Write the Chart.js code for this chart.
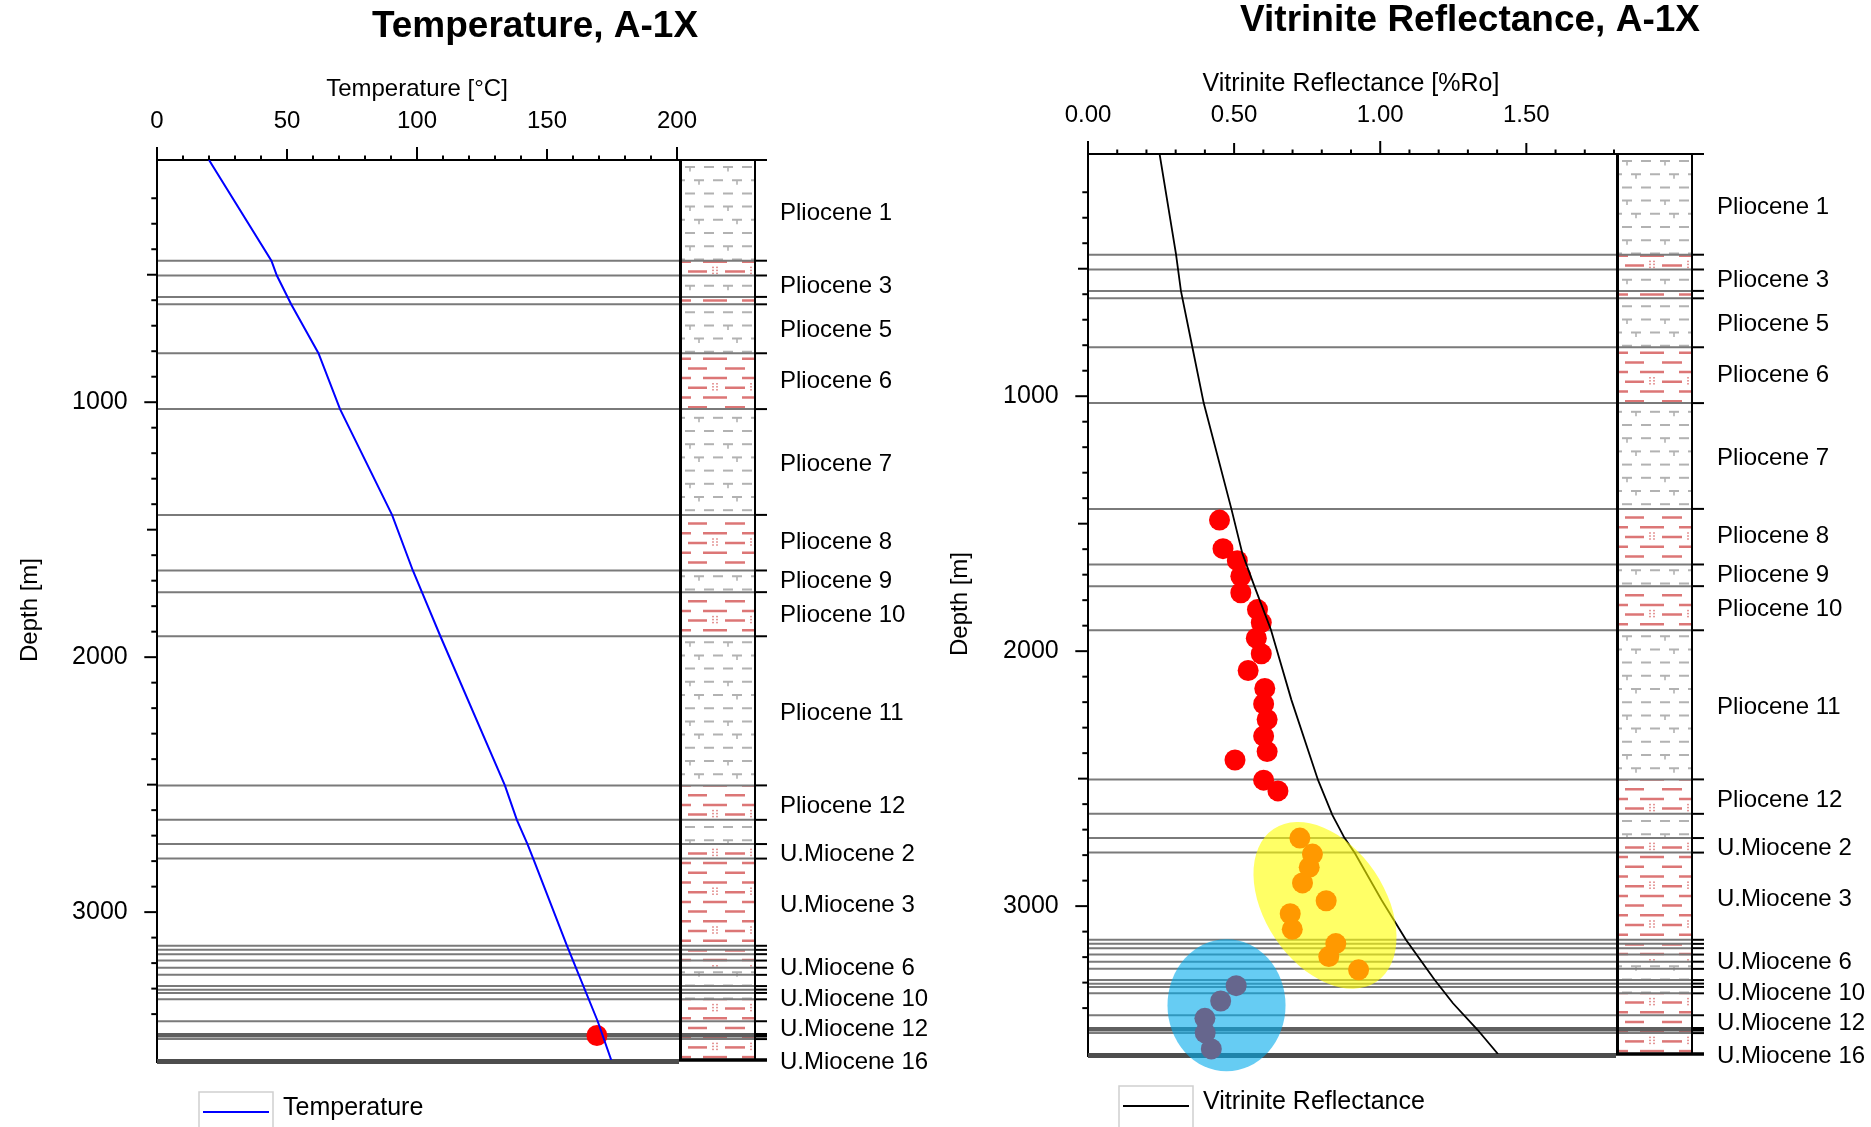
<!DOCTYPE html>
<html>
<head>
<meta charset="utf-8">
<title>A-1X well panels</title>
<script src="https://cdn.jsdelivr.net/npm/chart.js@4.4.1/dist/chart.umd.min.js"></script>
<style>
  html, body { margin: 0; padding: 0; background: #fff; overflow: hidden; width: 1871px; height: 1127px; }
  canvas { position: absolute; }
  #tempChart { left: 0; top: 0; }
  #vrChart { left: 930px; top: -6px; }
</style>
</head>
<body>
<canvas id="tempChart" width="1070" height="1127"></canvas>
<canvas id="vrChart" width="1080" height="1133"></canvas>
<script>
// ---- Well A-1X: depth range, horizons and lithology --------------------
const depthTop = 50;
const depthBottom = 3580;
const depthTickLabels = [1000, 2000, 3000];

const horizonDepths = [445, 503, 587, 616, 808, 1027, 1442, 1660, 1745, 1918, 2503, 2638,
  2733, 2790, 3132, 3148, 3165, 3190, 3218, 3246, 3290, 3304, 3317, 3342, 3428, 3483, 3498];
const thickHorizons = [3483];

// one entry per interval between consecutive horizons (top to bottom)
const lithology = ['shale', 'sand', 'shale', 'sand', 'shale', 'sand', 'shale', 'sand', 'shale', 'sand',
  'shale', 'sand', 'shale', 'sand', 'sand', 'sand', 'sand', 'sand', 'sand', 'shale', 'shale', 'shale',
  'shale', 'shale', 'sand', 'sand', 'sand', 'sand'];

const formationNames = ['Pliocene 1', 'Pliocene 3', 'Pliocene 5', 'Pliocene 6', 'Pliocene 7', 'Pliocene 8',
  'Pliocene 9', 'Pliocene 10', 'Pliocene 11', 'Pliocene 12', 'U.Miocene 2', 'U.Miocene 3', 'U.Miocene 6',
  'U.Miocene 10', 'U.Miocene 12', 'U.Miocene 16'];
const formationLabelDepths = [260, 545, 718, 920, 1243, 1551, 1701, 1837, 2220, 2585, 2773, 2974, 3222,
  3344, 3460, 3591];

// ---- Temperature -------------------------------------------------------
const tempTickLabels = [0, 50, 100, 150, 200];
const tempDepth = [50, 445, 503, 616, 808, 1027, 1442, 1660, 1745, 1918, 2503, 2638, 2733, 2790, 3132, 3428, 3580];
const tempValue = [20.0, 44.0, 46.1, 51.6, 62.1, 70.4, 90.4, 98.4, 101.9, 109.0, 133.8, 138.4, 142.5, 144.7, 157.7, 169.5, 174.7];
const measuredTempDepth = [3484];
const measuredTempValue = [169.2];

// ---- Vitrinite reflectance --------------------------------------------
const vrTickLabels = ['0.00', '0.50', '1.00', '1.50'];
const vrDepth = [50, 442, 587, 807, 1027, 1439, 1616, 1747, 1916, 2191, 2505, 2642, 2733, 2792, 2975, 3132, 3289, 3381, 3485, 3580];
const vrValue = [0.245, 0.301, 0.318, 0.357, 0.396, 0.490, 0.528, 0.570, 0.626, 0.696, 0.787, 0.836, 0.878, 0.913, 1.004, 1.088, 1.186, 1.249, 1.333, 1.403];
const roDepth = [1486, 1598, 1645, 1706, 1771, 1837, 1888, 1949, 2010, 2076, 2146, 2207, 2268, 2333, 2394, 2427, 2506, 2548,
  2733, 2796, 2848, 2909, 2979, 3030, 3091, 3147, 3198, 3250,
  3312, 3372, 3440, 3497, 3560];
const roValue = [0.450, 0.462, 0.511, 0.523, 0.523, 0.580, 0.593, 0.576, 0.593, 0.548, 0.605, 0.601, 0.613, 0.601, 0.613, 0.503, 0.601, 0.650,
  0.725, 0.768, 0.757, 0.734, 0.815, 0.692, 0.699, 0.848, 0.824, 0.926,
  0.507, 0.454, 0.400, 0.401, 0.422];

// highlighted sample groups (centre, semi-axes in data units, tilt in degrees)
const groupVr = [0.811, 0.474];
const groupDepth = [2997, 3389];
const groupRadiusVr = [0.315, 0.202];
const groupRadiusDepth = [235, 259];
const groupTilt = [56, 0];

// ------------------------------------------------------------------------
const FONT = '"Liberation Sans", Arial, Helvetica, sans-serif';
Chart.defaults.font.family = FONT;
Chart.defaults.color = '#000';

function line(ctx, x0, y0, x1, y1) {
  ctx.beginPath();
  ctx.moveTo(x0, y0);
  ctx.lineTo(x1, y1);
  ctx.stroke();
}

function onStep(v, step, minor) {
  const r = Math.round(v / minor);
  const k = Math.round(step / minor);
  return r % k === 0;
}

// shale / marl symbol rows: "T - T -", "- T - T", "- - - -"
function drawShale(ctx, x0, top, y0, y1) {
  ctx.strokeStyle = '#b2b2b2';
  const gap = 13.2;
  const k0 = Math.max(0, Math.floor((y0 - top - 7) / gap) - 1);
  const k1 = Math.ceil((y1 - top - 7) / gap) + 1;
  for (let k = k0; k <= k1; k++) {
    const yy = top + 7 + gap * k;
    const type = k % 3;
    const cells = type === 1 ? [-2, 17, 36, 55, 74] : [8, 27, 46, 65];
    cells.forEach((cx, j) => {
      const isT = type === 0 ? j % 2 === 0 : (type === 1 ? j % 2 === 1 : false);
      ctx.lineWidth = 2;
      line(ctx, x0 + cx - 5, yy, x0 + cx + 5, yy);
      if (isT) {
        ctx.lineWidth = 1.6;
        line(ctx, x0 + cx, yy, x0 + cx, yy + 4.5);
      }
    });
  }
}

// sandy symbol rows: staggered dashes with dotted pairs
function drawSand(ctx, x0, top, y0, y1) {
  ctx.strokeStyle = '#dc7676';
  ctx.fillStyle = '#dc7676';
  const gap = 9.7;
  const k0 = Math.max(0, Math.floor((y0 - top - 4.7) / gap) - 1);
  const k1 = Math.ceil((y1 - top - 4.7) / gap) + 1;
  for (let k = k0; k <= k1; k++) {
    const yy = top + 4.7 + gap * k;
    const segs = k % 2 === 0 ? [[0, 9], [21, 45], [60, 72]] : [[6, 25], [43, 63]];
    ctx.lineWidth = 2.5;
    segs.forEach(([s, e]) => line(ctx, x0 + s, yy, x0 + e, yy));
    if (k % 4 === 3) {
      [31, 35, 69].forEach(dx => {
        for (let t = -4; t <= 4; t += 3) ctx.fillRect(x0 + dx - 0.75, yy + t - 0.75, 1.5, 1.5);
      });
    }
  }
}

const wellPanel = {
  id: 'wellPanel',
  beforeDatasetsDraw(chart, args, o) {
    const { ctx, chartArea: a } = chart;
    const xS = chart.scales.x, yS = chart.scales.y;
    const colL = a.right + 5, colR = a.right + 77, stubR = a.right + 90;
    const bounds = [depthTop].concat(horizonDepths, [depthBottom]);
    ctx.save();
    ctx.lineCap = 'butt';

    // lithology column
    for (let i = 0; i < lithology.length; i++) {
      const y0 = yS.getPixelForValue(bounds[i]);
      const y1 = yS.getPixelForValue(bounds[i + 1]);
      ctx.save();
      ctx.beginPath();
      ctx.rect(colL, y0, colR - colL, y1 - y0);
      ctx.clip();
      if (lithology[i] === 'shale') drawShale(ctx, colL, a.top, y0, y1);
      else drawSand(ctx, colL, a.top, y0, y1);
      ctx.restore();
    }

    // horizons
    horizonDepths.forEach(d => {
      const yy = yS.getPixelForValue(d);
      const thick = thickHorizons.includes(d);
      ctx.strokeStyle = thick ? '#5f5f5f' : '#7a7a7a';
      ctx.lineWidth = thick ? 4.5 : 2;
      line(ctx, a.left, yy, colR, yy);
      ctx.strokeStyle = '#000';
      line(ctx, colR, yy, stubR, yy);
    });

    // frame
    ctx.strokeStyle = '#000';
    ctx.lineWidth = 2;
    line(ctx, a.left - 1, a.top, stubR, a.top);
    line(ctx, a.left, a.top, a.left, a.bottom + 3);
    ctx.lineWidth = 3;
    line(ctx, a.right + 3.5, a.top, a.right + 3.5, a.bottom);
    ctx.lineWidth = 2;
    line(ctx, colR + 1, a.top, colR + 1, a.bottom);
    ctx.strokeStyle = '#4d4d4d';
    ctx.lineWidth = 5;
    line(ctx, a.left, a.bottom + 1.5, a.right + 2, a.bottom + 1.5);
    ctx.strokeStyle = '#000';
    ctx.lineWidth = 3.5;
    line(ctx, a.right + 2, a.bottom, stubR, a.bottom);

    // tick marks
    ctx.lineWidth = 2;
    xS.ticks.forEach(t => {
      const px = xS.getPixelForValue(t.value);
      const len = onStep(t.value, o.xMajor, o.xMinor) ? 13 : (onStep(t.value, o.xMid, o.xMinor) ? 11 : 4.5);
      line(ctx, px, a.top, px, a.top - len);
    });
    yS.ticks.forEach(t => {
      const py = yS.getPixelForValue(t.value);
      const len = t.value % 1000 === 0 ? 12.7 : (t.value % 500 === 0 ? 10 : 5.7);
      line(ctx, a.left, py, a.left - len, py);
    });
    ctx.restore();
  },
  afterDatasetsDraw(chart, args, o) {
    const { ctx, chartArea: a } = chart;
    const xS = chart.scales.x, yS = chart.scales.y;
    ctx.save();

    // highlighted sample groups
    if (o.groups) {
      const pxX = xS.width / (xS.max - xS.min);
      const pxY = yS.height / (yS.max - yS.min);
      const fills = ['rgba(255,255,0,0.6)', 'rgba(0,170,235,0.6)'];
      groupVr.forEach((v, i) => {
        ctx.fillStyle = fills[i];
        ctx.beginPath();
        ctx.ellipse(xS.getPixelForValue(v), yS.getPixelForValue(groupDepth[i]),
          groupRadiusVr[i] * pxX, groupRadiusDepth[i] * pxY, groupTilt[i] * Math.PI / 180, 0, Math.PI * 2);
        ctx.fill();
      });
    }

    // formation names
    ctx.fillStyle = '#000';
    ctx.font = '24px ' + FONT;
    ctx.textAlign = 'left';
    ctx.textBaseline = 'middle';
    formationNames.forEach((n, i) => {
      ctx.fillText(n, a.right + 103, yS.getPixelForValue(formationLabelDepths[i]));
    });

    // legend
    const ds = chart.data.datasets[0];
    const bx = a.left + o.legendDx, by = a.bottom + 32;
    ctx.strokeStyle = '#cfcfcf';
    ctx.lineWidth = 1.5;
    ctx.strokeRect(bx, by, 74, 44);
    ctx.strokeStyle = ds.borderColor;
    ctx.lineWidth = 2;
    line(ctx, bx + 4, a.bottom + 52, bx + 70, a.bottom + 52);
    ctx.fillStyle = '#000';
    ctx.font = '25px ' + FONT;
    ctx.fillText(ds.label, bx + 84, a.bottom + 48);
    ctx.restore();
  }
};

function buildPanel(id, opt) {
  return new Chart(document.getElementById(id), {
    type: 'scatter',
    data: { datasets: opt.datasets },
    options: {
      responsive: false,
      animation: false,
      devicePixelRatio: 1,
      layout: { padding: { left: 0, right: 0, top: 0, bottom: opt.padBottom } },
      plugins: {
        legend: { display: false },
        tooltip: { enabled: false },
        title: {
          display: true, text: opt.title, color: '#000',
          font: { size: 37, weight: 'bold', lineHeight: 1.2 },
          padding: { top: 5, bottom: 0 }
        },
        wellPanel: { legendDx: opt.legendDx, xMajor: opt.xMajor, xMid: opt.xMid, xMinor: opt.xStep, groups: opt.groups }
      },
      scales: {
        x: {
          type: 'linear', position: 'top', min: opt.xMin, max: opt.xMax,
          grid: { display: false, drawTicks: false, tickLength: 0 },
          border: { display: false },
          ticks: {
            stepSize: opt.xStep, autoSkip: false, maxRotation: 0, minRotation: 0,
            padding: 24.6, color: '#000', font: { size: 24 }, callback: opt.xLabel
          },
          title: { display: true, text: opt.xTitle, color: '#000', font: { size: opt.xTitleSize }, padding: { top: 25.7, bottom: 0 } },
          afterFit: s => { s.height = 110.6; }
        },
        y: {
          type: 'linear', position: 'left', reverse: true, min: depthTop, max: depthBottom,
          grid: { display: false, drawTicks: false, tickLength: 0 },
          border: { display: false },
          afterBuildTicks: s => { s.ticks = s.ticks.filter(t => t.value % 100 === 0); },
          ticks: {
            stepSize: 100, autoSkip: false, padding: 29.3, color: '#000', font: { size: 25 },
            callback: v => depthTickLabels.includes(v) ? String(v) : ''
          },
          title: { display: true, text: 'Depth [m]', color: '#000', font: { size: 24 }, padding: { top: 15.6, bottom: 0 } },
          afterFit: s => { s.width = opt.yAxisWidth; }
        },
        side: {
          type: 'linear', axis: 'y', position: 'right', display: true,
          grid: { display: false, drawTicks: false },
          border: { display: false },
          ticks: { display: false },
          afterFit: s => { s.width = opt.sideWidth; }
        }
      }
    },
    plugins: [wellPanel]
  });
}

buildPanel('tempChart', {
  title: 'Temperature, A-1X',
  xTitle: 'Temperature [\u00B0C]', xTitleSize: 24,
  xMin: 0, xMax: 200, xStep: 10, xMajor: 100, xMid: 50,
  xLabel: v => tempTickLabels.includes(v) ? String(v) : '',
  yAxisWidth: 157, sideWidth: 393, padBottom: 67, legendDx: 42,
  datasets: [
    {
      label: 'Temperature',
      data: tempDepth.map((d, i) => ({ x: tempValue[i], y: d })),
      showLine: true, borderColor: '#0000ff', borderWidth: 2, pointRadius: 0, tension: 0, fill: false
    },
    {
      label: 'Measured temperature',
      data: measuredTempDepth.map((d, i) => ({ x: measuredTempValue[i], y: d })),
      showLine: false, pointRadius: 10.5, pointStyle: 'circle', backgroundColor: '#ff0000', borderWidth: 0, clip: false
    }
  ]
});

buildPanel('vrChart', {
  title: 'Vitrinite Reflectance, A-1X',
  xTitle: 'Vitrinite Reflectance [%Ro]', xTitleSize: 25,
  xMin: 0, xMax: 1.8, xStep: 0.1, xMajor: 1, xMid: 0.5,
  xLabel: v => { const s = Number(v).toFixed(2); return vrTickLabels.includes(s) ? s : ''; },
  yAxisWidth: 158, sideWidth: 396, padBottom: 73, legendDx: 31, groups: true,
  datasets: [
    {
      label: 'Vitrinite Reflectance',
      data: vrDepth.map((d, i) => ({ x: vrValue[i], y: d })),
      showLine: true, borderColor: '#000000', borderWidth: 1.8, pointRadius: 0, tension: 0, fill: false
    },
    {
      label: 'Measured %Ro',
      data: roDepth.map((d, i) => ({ x: roValue[i], y: d })),
      showLine: false, pointRadius: 10.5, pointStyle: 'circle', backgroundColor: '#ff0000', borderWidth: 0, clip: false
    }
  ]
});
</script>
</body>
</html>
